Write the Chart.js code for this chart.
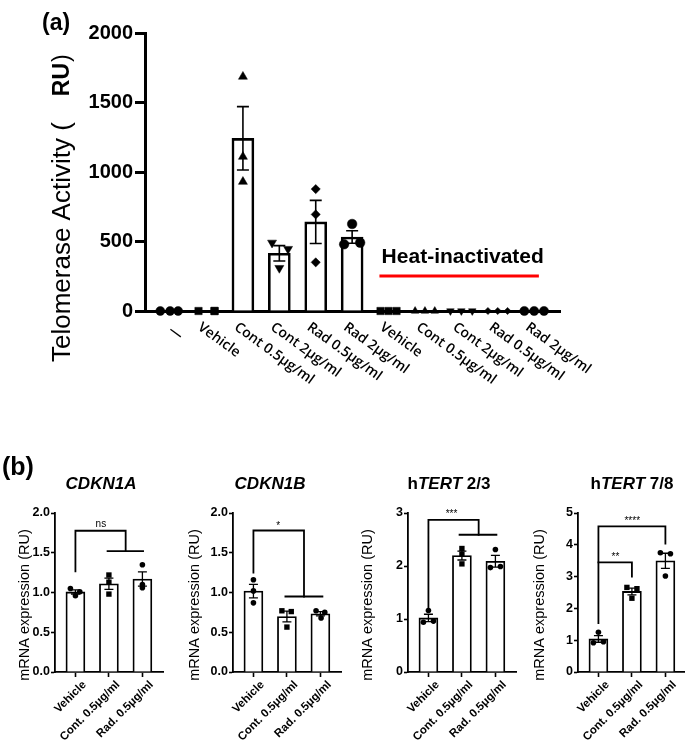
<!DOCTYPE html>
<html>
<head>
<meta charset="utf-8">
<script src="https://cdn.jsdelivr.net/npm/chart.js@4.4.1/dist/chart.umd.min.js"></script>
<style>
html,body{margin:0;padding:0;background:#fff;overflow:hidden;}
#wrap{position:relative;width:685px;height:749px;overflow:hidden;font-family:"Liberation Sans",Arial,sans-serif;color:#000;}
canvas{position:absolute;}
.lab{position:absolute;font-weight:bold;white-space:nowrap;}
.ttl{position:absolute;width:140px;text-align:center;font-weight:bold;font-size:17px;line-height:20px;top:474px;white-space:nowrap;}
</style>
</head>
<body>
<div id="wrap">
  <canvas id="ca" width="685" height="430" style="left:0;top:0"></canvas>
  <canvas id="cb1" width="172" height="299" style="left:0;top:450px"></canvas>
  <canvas id="cb2" width="172" height="299" style="left:178px;top:450px"></canvas>
  <canvas id="cb3" width="172" height="299" style="left:353px;top:450px"></canvas>
  <canvas id="cb4" width="172" height="299" style="left:523px;top:450px"></canvas>
  <div class="lab" style="left:42px;top:11px;font-size:23px;line-height:23px">(a)</div>
  <div class="lab" style="left:2px;top:454px;font-size:25px;line-height:25px">(b)</div>
  <div class="ttl" style="left:31px"><i>CDKN1A</i></div>
  <div class="ttl" style="left:200px"><i>CDKN1B</i></div>
  <div class="ttl" style="left:379px">h<i>TERT</i> 2/3</div>
  <div class="ttl" style="left:562px">h<i>TERT</i> 7/8</div>
</div>
<script>
// ---------------- DATA : panel (a) ----------------
const catsA = ['—','Vehicle','Cont 0.5μg/ml','Cont 2μg/ml','Rad 0.5μg/ml','Rad 2μg/ml','Vehicle','Cont 0.5μg/ml','Cont 2μg/ml','Rad 0.5μg/ml','Rad 2μg/ml'];
const meanA = [0, 0, 1242, 415, 641, 532, 0, 0, 0, 0, 0];
const semA  = [0, 0, 228, 55, 155, 45, 0, 0, 0, 0, 0];
const ptsA  = [[0,0,0],[0,0,0],[1686,1110,930],[491,309,446],[877,695,350],[480,626,491],[0,0,0],[0,0,0],[0,0,0],[0,0,0],[0,0,0]];
const yTicksA = [0, 500, 1000, 1500, 2000];
const yTitleA = ['Telomerase Activity (', 'RU', ')'];
const heatLabel = 'Heat-inactivated';

// ---------------- DATA : panel (b) ----------------
const catsB = ['Vehicle','Cont. 0.5μg/ml','Rad. 0.5μg/ml'];
const genesB = ['CDKN1A','CDKN1B','hTERT 2/3','hTERT 7/8'];
const yTitleB = 'mRNA expression (RU)';
const meanP21 = [1.007, 1.11, 1.17];
const semP21  = [0.026, 0.07, 0.09];
const ptsP21  = [[1.05,0.96,1.01],[1.22,1.13,0.98],[1.35,1.10,1.06]];
const meanP27 = [1.017, 0.698, 0.733];
const semP27  = [0.084, 0.067, 0.027];
const ptsP27  = [[1.16,1.02,0.87],[0.77,0.565,0.76],[0.77,0.68,0.75]];
const meanT23 = [1.02, 2.197, 2.09];
const semT23  = [0.07, 0.084, 0.11];
const ptsT23  = [[0.94,1.16,0.96],[2.33,2.22,2.04],[1.97,2.31,1.99]];
const meanT78 = [1.04, 2.533, 3.497];
const semT78  = [0.105, 0.107, 0.238];
const ptsT78  = [[0.92,1.25,0.95],[2.66,2.32,2.62],[3.75,3.02,3.72]];
const sigP21 = ['ns'];
const sigP27 = ['*'];
const sigT23 = ['***'];
const sigT78 = ['****','**'];

// ---------------- STYLE / LAYOUT ----------------
Chart.defaults.font.family = '"Liberation Sans", Arial, sans-serif';
Chart.defaults.color = '#000';
Chart.defaults.animation = false;

function errBars(chart, means, sems, cap, lw) {
  const {ctx, scales:{x, y}} = chart;
  ctx.save();
  ctx.strokeStyle = '#000'; ctx.lineWidth = lw;
  means.forEach((m, i) => {
    if (!sems[i]) return;
    const px = x.getPixelForValue(i);
    const t = y.getPixelForValue(m + sems[i]);
    const b = y.getPixelForValue(m - sems[i]);
    ctx.beginPath();
    ctx.moveTo(px, t); ctx.lineTo(px, b);
    ctx.moveTo(px - cap/2, t); ctx.lineTo(px + cap/2, t);
    ctx.moveTo(px - cap/2, b); ctx.lineTo(px + cap/2, b);
    ctx.stroke();
  });
  ctx.restore();
}

// ---------- panel (a) ----------
const shapesA = ['circle','rect','triangle','triangle','rectRot','circle','rect','triangle','triangle','rectRot','circle'];
const rotA = [0,0,0,180,0,0,0,0,180,0,0];
const radA = [4.5,5.2,5.2,5.2,4.6,4.8,5.2,4.4,4.4,3.6,4.6];
const jitA = [[-0.27,0,0.22],[-0.22,0.22,0.22],[0,0,0],[-0.2,0,0.24],[0,0,0],[-0.22,0,0.22],[-0.22,0,0.22],[-0.27,0,0.27],[-0.3,0,0.3],[-0.27,0,0.27],[-0.27,0,0.27]];

const dsA = [{
  type: 'bar',
  data: catsA.map((c, i) => ({x: i, y: meanA[i]})),
  backgroundColor: '#fff', borderColor: '#000', borderWidth: 2.6,
  barThickness: 22, borderSkipped: 'start', order: 3
}];
ptsA.forEach((g, i) => dsA.push({
  type: 'line', showLine: false, clip: false, order: 1,
  data: g.map((v, j) => ({x: i + jitA[i][j], y: v})),
  pointStyle: shapesA[i], pointRotation: rotA[i], pointRadius: radA[i],
  pointBackgroundColor: '#000', pointBorderColor: '#000', pointBorderWidth: 0.5
}));

const plugA = {
  id: 'plugA',
  afterDatasetDraw(chart, args) { if (args.meta.type === 'bar') errBars(chart, meanA, semA, 12, 1.6); },
  afterDraw(chart) {
    const {ctx, scales:{x, y}} = chart;
    const y0 = y.getPixelForValue(0);
    ctx.save();
    ctx.fillStyle = '#000';
    ctx.font = '600 14px "Open Sans"';
    ctx.textAlign = 'left'; ctx.textBaseline = 'top';
    catsA.forEach((c, i) => {
      ctx.save();
      ctx.translate(x.getPixelForValue(i) - (i === 0 ? -4 : 3), y0 + (i === 0 ? 12 : 9));
      ctx.rotate(36 * Math.PI / 180);
      ctx.fillText(c, 0, 0);
      ctx.restore();
    });
    // heat-inactivated annotation
    ctx.font = 'bold 21px "Liberation Sans"';
    ctx.textBaseline = 'alphabetic';
    ctx.fillText(heatLabel, x.getPixelForValue(5.81), y.getPixelForValue(345));
    ctx.strokeStyle = '#f00'; ctx.lineWidth = 3;
    ctx.beginPath();
    ctx.moveTo(x.getPixelForValue(5.75), y.getPixelForValue(252));
    ctx.lineTo(x.getPixelForValue(10.13), y.getPixelForValue(252));
    ctx.stroke();
    // y title
    ctx.translate(63, 362); ctx.rotate(-Math.PI / 2);
    ctx.textBaseline = 'middle';
    ctx.font = '26px "Liberation Sans"';
    ctx.fillText(yTitleA[0], 0, 0);
    let w = ctx.measureText(yTitleA[0]).width + 26;
    ctx.font = 'bold 23px "Liberation Sans"';
    ctx.fillText(yTitleA[1], w, 0);
    w += ctx.measureText(yTitleA[1]).width + 1;
    ctx.font = '23px "Liberation Sans"';
    ctx.fillText(yTitleA[2], w, 0);
    ctx.restore();
  }
};

new Chart(document.getElementById('ca'), {
  type: 'bar',
  data: {datasets: dsA},
  options: {
    responsive: false, devicePixelRatio: 1,
    layout: {padding: {top: 33, right: 125, left: 0, bottom: 0}},
    plugins: {legend: {display: false}, tooltip: {enabled: false}},
    scales: {
      x: {
        type: 'linear', min: -0.69, max: 10.71, offset: false,
        grid: {display: false, offset: false},
        border: {display: true, color: '#000', width: 3},
        ticks: {display: false},
        afterFit: s => { s.height = 119; }
      },
      y: {
        type: 'linear', min: 0, max: 2000,
        grid: {display: true, drawOnChartArea: false, color: '#000', tickLength: 10, tickWidth: 3},
        border: {display: true, color: '#000', width: 3},
        ticks: {stepSize: 500, padding: 2, font: {size: 20, weight: 'bold'}, color: '#000',
                callback: v => yTicksA.includes(v) ? String(v) : ''},
        afterFit: s => { s.width = 145; }
      }
    }
  },
  plugins: [plugA]
});

// ---------- panel (b) ----------
const shapesB = ['circle','rect','circle'];
const radB = [2.8, 3.8, 2.8];

function chartB(id, means, sems, pts, yMax, yStep, dec, jit, brackets, sigs, sigPos, titleX) {
  const ds = [{
    type: 'bar',
    data: catsB.map((c, i) => ({x: i, y: means[i]})),
    backgroundColor: '#fff', borderColor: '#000', borderWidth: 1.8,
    barThickness: 19, borderSkipped: 'start', order: 3
  }];
  brackets.forEach(l => ds.push({
    type: 'line', data: l.map(p => ({x: p[0], y: p[1]})),
    borderColor: '#000', borderWidth: 1.8, pointRadius: 0, fill: false,
    tension: 0, order: 2, clip: false, borderCapStyle: 'square'
  }));
  pts.forEach((g, i) => ds.push({
    type: 'line', showLine: false, clip: false, order: 1,
    data: g.map((v, j) => ({x: i + jit[i][j], y: v})),
    pointStyle: shapesB[i], pointRadius: radB[i],
    pointBackgroundColor: '#000', pointBorderColor: '#000', pointBorderWidth: 0
  }));
  const plug = {
    id: 'plugB' + id,
    afterDatasetDraw(chart, args) { if (args.meta.type === 'bar') errBars(chart, means, sems, 9, 1.3); },
    afterDraw(chart) {
      const {ctx, scales:{x, y}} = chart;
      ctx.save();
      ctx.fillStyle = '#000';
      ctx.font = '10px "Liberation Sans"';
      ctx.textAlign = 'center'; ctx.textBaseline = 'middle';
      sigs.forEach((s, k) => ctx.fillText(s, x.getPixelForValue(sigPos[k][0]), y.getPixelForValue(sigPos[k][1])));
      ctx.translate(titleX, 155); ctx.rotate(-Math.PI / 2);
      ctx.font = '14.5px "Liberation Sans"';
      ctx.fillText(yTitleB, 0, 0);
      ctx.restore();
    }
  };
  new Chart(document.getElementById(id), {
    type: 'bar',
    data: {datasets: ds},
    options: {
      responsive: false, devicePixelRatio: 1,
      layout: {padding: {top: 63, right: 8.5, left: 0, bottom: 0}},
      plugins: {legend: {display: false}, tooltip: {enabled: false}},
      scales: {
        x: {
          type: 'linear', min: -0.61, max: 2.63, offset: false,
          grid: {display: true, drawOnChartArea: false, offset: false, color: '#000', tickLength: 5, tickWidth: 1.6},
          border: {display: true, color: '#000', width: 1.8},
          ticks: {stepSize: 1, includeBounds: false, autoSkip: false, minRotation: 45, maxRotation: 45, padding: 1,
                  labelOffset: 9,
                  font: {size: 11.5, weight: 'bold'}, color: '#000',
                  callback: v => (Number.isInteger(v) && catsB[v]) ? catsB[v] : ''},
          afterFit: s => { s.height = 77; }
        },
        y: {
          type: 'linear', min: 0, max: yMax,
          grid: {display: true, drawOnChartArea: false, color: '#000', tickLength: 4, tickWidth: 1.6},
          border: {display: true, color: '#000', width: 1.8},
          ticks: {stepSize: yStep, padding: 1, font: {size: 12.5, weight: 'bold'}, color: '#000',
                  callback: v => v.toFixed(dec)},
          afterFit: s => { s.width = 55; }
        }
      }
    },
    plugins: [plug]
  });
}

chartB('cb1', meanP21, semP21, ptsP21, 2, 0.5, 1,
  [[-0.15,0,0.13],[0,0,0],[0,0,0]],
  [[[0,1.265],[0,1.777],[1.5,1.777],[1.5,1.52]], [[0.96,1.52],[2.02,1.52]]],
  sigP21, [[0.76,1.86]], 25);
chartB('cb2', meanP27, semP27, ptsP27, 2, 0.5, 1,
  [[0,0,0],[-0.15,0,0.13],[-0.13,0.02,0.13]],
  [[[0,1.25],[0,1.78],[1.51,1.78],[1.51,0.95]], [[0.955,0.95],[2.06,0.95]]],
  sigP27, [[0.74,1.83]], 17);
chartB('cb3', meanT23, semT23, ptsT23, 3, 1, 0,
  [[-0.15,0,0.15],[0,0,0],[-0.15,0,0.15]],
  [[[0,1.18],[0,2.87],[1.5,2.87],[1.5,2.59]], [[0.93,2.59],[2.03,2.59]]],
  sigT23, [[0.69,2.98]], 15);
chartB('cb4', meanT78, semT78, ptsT78, 5, 1, 0,
  [[-0.15,0,0.15],[-0.15,0,0.15],[-0.15,0,0.15]],
  [[[0,1.54],[0,4.58],[2,4.58],[2,4.04]], [[0,3.45],[1,3.45],[1,3.0]]],
  sigT78, [[1.01,4.74],[0.51,3.6]], 17);
</script>
</body>
</html>
